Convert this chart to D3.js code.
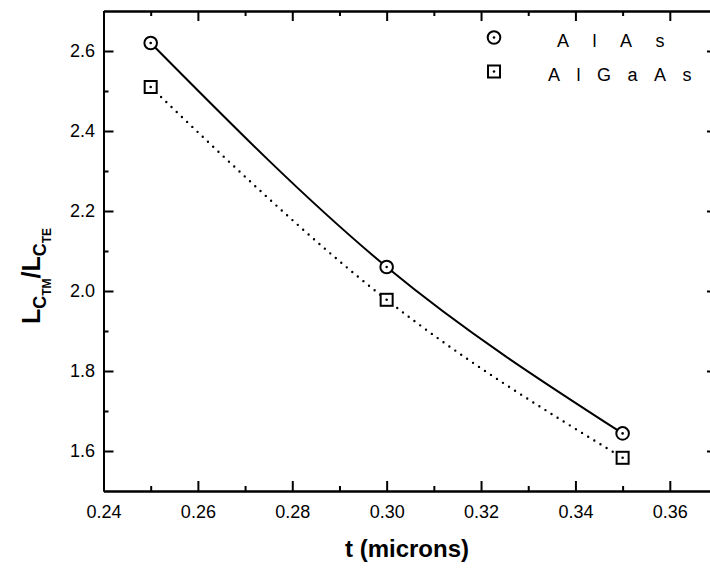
<!DOCTYPE html>
<html>
<head>
<meta charset="utf-8">
<script src="https://cdn.jsdelivr.net/npm/d3@7"></script>
<style>
  html, body { margin: 0; padding: 0; background: #fff; }
  svg { display: block; font-family: "Liberation Sans", Arial, Helvetica, sans-serif; }
</style>
</head>
<body>
<svg id="chart" width="710" height="569"></svg>
<script>
// Thickness t (microns) for both structures
const thickness = [0.25, 0.30, 0.35];
// Ratio L_C,TM / L_C,TE
const alasRatio = [2.62, 2.06, 1.644];
const algaasRatio = [2.51, 1.978, 1.583];

const seriesNames = ["AlAs", "AlGaAs"];

const xMajorTicks = [0.24, 0.26, 0.28, 0.30, 0.32, 0.34, 0.36];
const xMinorTicks = [0.25, 0.27, 0.29, 0.31, 0.33, 0.35];
const yMajorTicks = [1.6, 1.8, 2.0, 2.2, 2.4, 2.6];
const yMinorTicks = [1.7, 1.9, 2.1, 2.3, 2.5];

const svg = d3.select("#chart");
const W = 710, H = 569;

const plot = { left: 103.5, right: 717, top: 11, bottom: 491 };

const x = d3.scaleLinear().domain([0.24, 0.37]).range([plot.left, plot.right]);
const y = d3.scaleLinear().domain([1.5, 2.7]).range([plot.bottom, plot.top]);

const fmt = d3.format(".2f");
const fmtY = d3.format(".1f");

function styleAxis(g) {
  g.selectAll("path.domain").attr("stroke", "#000").attr("stroke-width", 2);
  g.selectAll(".tick line").attr("stroke", "#000").attr("stroke-width", 2);
  g.selectAll(".tick text").attr("fill", "#000").attr("font-size", 18)
    .attr("font-family", "'Liberation Sans', Arial, Helvetica, sans-serif");
}

// Bottom axis (labelled)
svg.append("g")
  .attr("transform", `translate(0,${plot.bottom})`)
  .call(d3.axisBottom(x).tickValues(xMajorTicks).tickFormat(fmt)
    .tickSizeInner(-10).tickSizeOuter(0).tickPadding(16))
  .call(styleAxis)
  .call(g => g.selectAll(".tick text").attr("dy", "0.71em").attr("y", 14));
svg.append("g")
  .attr("transform", `translate(0,${plot.bottom})`)
  .call(d3.axisBottom(x).tickValues(xMinorTicks).tickFormat("")
    .tickSizeInner(-5).tickSizeOuter(0))
  .call(styleAxis);

// Top axis (ticks only)
svg.append("g")
  .attr("transform", `translate(0,${plot.top})`)
  .call(d3.axisTop(x).tickValues(xMajorTicks.concat([0.37])).tickFormat("")
    .tickSizeInner(-10).tickSizeOuter(0))
  .call(styleAxis);
svg.append("g")
  .attr("transform", `translate(0,${plot.top})`)
  .call(d3.axisTop(x).tickValues(xMinorTicks).tickFormat("")
    .tickSizeInner(-5).tickSizeOuter(0))
  .call(styleAxis);

// Left axis (labelled)
svg.append("g")
  .attr("transform", `translate(${plot.left},0)`)
  .call(d3.axisLeft(y).tickValues(yMajorTicks).tickFormat(fmtY)
    .tickSizeInner(-10).tickSizeOuter(0).tickPadding(8.5))
  .call(styleAxis);
svg.append("g")
  .attr("transform", `translate(${plot.left},0)`)
  .call(d3.axisLeft(y).tickValues(yMinorTicks).tickFormat("")
    .tickSizeInner(-5).tickSizeOuter(0))
  .call(styleAxis);

// Right axis (ticks only)
svg.append("g")
  .attr("transform", `translate(${plot.right},0)`)
  .call(d3.axisRight(y).tickValues(yMajorTicks).tickFormat("")
    .tickSizeInner(-10).tickSizeOuter(0))
  .call(styleAxis);
svg.append("g")
  .attr("transform", `translate(${plot.right},0)`)
  .call(d3.axisRight(y).tickValues(yMinorTicks).tickFormat("")
    .tickSizeInner(-5).tickSizeOuter(0))
  .call(styleAxis);

// Curves through the points
const line = d3.line().x(d => x(d[0])).y(d => y(d[1])).curve(d3.curveNatural);
const alasPts = thickness.map((t, i) => [t, alasRatio[i]]);
const algaasPts = thickness.map((t, i) => [t, algaasRatio[i]]);

svg.append("path").datum(alasPts)
  .attr("d", line).attr("fill", "none")
  .attr("stroke", "#000").attr("stroke-width", 2);

svg.append("path").datum(algaasPts)
  .attr("d", line).attr("fill", "none")
  .attr("stroke", "#000").attr("stroke-width", 2.4)
  .attr("stroke-linecap", "round").attr("stroke-dasharray", "0,7.2");

// Markers
function circleMarker(g, cx, cy) {
  g.append("circle").attr("cx", cx).attr("cy", cy).attr("r", 6.3)
    .attr("fill", "#fff").attr("stroke", "#000").attr("stroke-width", 2);
  g.append("circle").attr("cx", cx).attr("cy", cy).attr("r", 1.3).attr("fill", "#000");
}
function squareMarker(g, cx, cy) {
  g.append("rect").attr("x", cx - 6).attr("y", cy - 6).attr("width", 12).attr("height", 12)
    .attr("fill", "#fff").attr("stroke", "#000").attr("stroke-width", 2);
  g.append("circle").attr("cx", cx).attr("cy", cy).attr("r", 1.3).attr("fill", "#000");
}

const marks = svg.append("g");
alasPts.forEach(d => circleMarker(marks, x(d[0]), y(d[1])));
algaasPts.forEach(d => squareMarker(marks, x(d[0]), y(d[1])));

// Legend
const legend = svg.append("g");
circleMarker(legend, 494, 37.5);
squareMarker(legend, 494, 71.5);
legend.append("text").attr("x", 557).attr("y", 47)
  .attr("font-size", 18).attr("letter-spacing", "23.5px").text(seriesNames[0]);
legend.append("text").attr("x", 548).attr("y", 81)
  .attr("font-size", 18).attr("letter-spacing", "16.5px").text(seriesNames[1]);

// Axis titles
svg.append("text")
  .attr("x", 407).attr("y", 557)
  .attr("text-anchor", "middle")
  .attr("font-size", 24).attr("font-weight", "bold")
  .text("t (microns)");

const yt = svg.append("text")
  .attr("transform", "translate(40,276) rotate(-90)")
  .attr("text-anchor", "middle")
  .attr("font-weight", "bold");
yt.append("tspan").attr("font-size", 25).text("L");
yt.append("tspan").attr("font-size", 18).attr("dy", 6).text("C");
yt.append("tspan").attr("font-size", 12).attr("dy", 5).text("TM");
yt.append("tspan").attr("font-size", 25).attr("dy", -11).text("/");
yt.append("tspan").attr("font-size", 25).text("L");
yt.append("tspan").attr("font-size", 18).attr("dy", 6).text("C");
yt.append("tspan").attr("font-size", 12).attr("dy", 5).text("TE");
</script>
</body>
</html>
